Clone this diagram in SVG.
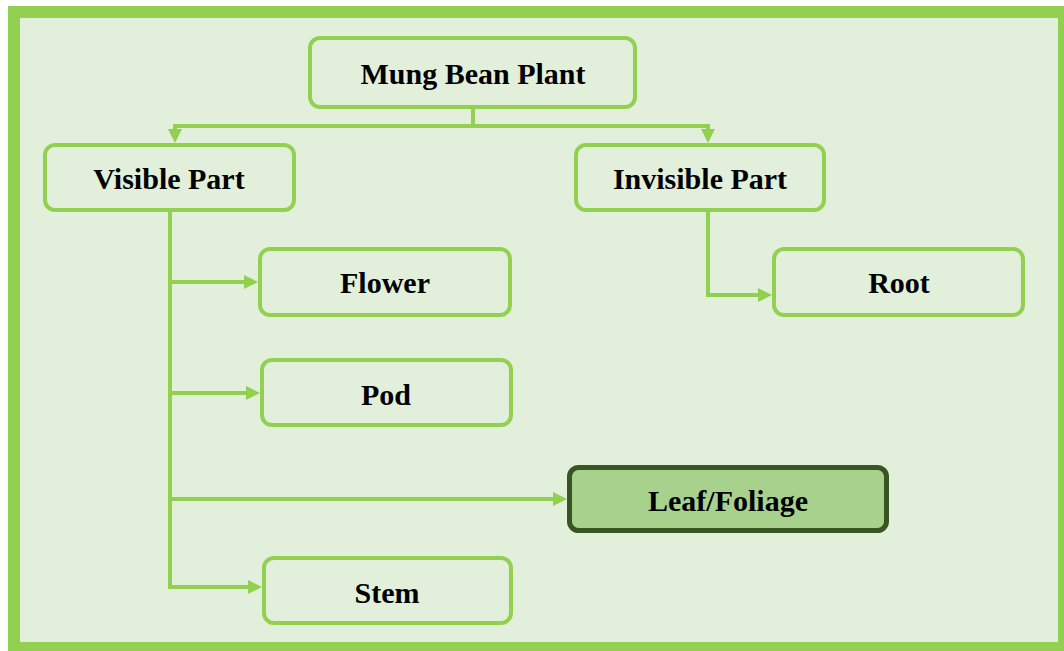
<svg xmlns="http://www.w3.org/2000/svg" width="1064" height="651" viewBox="0 0 1064 651">
  <defs>
    <style>
      .frame { fill: #E2EFDA; stroke: #92D050; stroke-width: 12; }
      .node rect { fill: #E2EFDA; stroke: #92D050; stroke-width: 4; }
      .node.hl rect { fill: #A9D18E; stroke: #375623; stroke-width: 5; }
      .node text { font-family: "Liberation Serif", "Times New Roman", serif; font-weight: bold; font-size: 30px; fill: #000; text-anchor: middle; }
      .link { fill: none; stroke: #92D050; stroke-width: 4; }
    </style>
    <!-- arrowhead: tip sits 10px beyond the end of the line -->
    <marker id="arrow" viewBox="0 0 14 14" refX="4" refY="7" markerUnits="userSpaceOnUse" markerWidth="14" markerHeight="14" orient="auto">
      <path d="M0,0 L14,7 L0,14 z" fill="#92D050"/>
    </marker>
  </defs>

  <!-- outer frame -->
  <rect class="frame" x="14" y="12" width="1050" height="636"/>

  <!-- connectors -->
  <g id="connectors">
    <path class="link" d="M473,108 V126"/>
    <path class="link" d="M175,126 H708"/>
    <path class="link" d="M175,124 V133" marker-end="url(#arrow)"/>
    <path class="link" d="M708,124 V133" marker-end="url(#arrow)"/>
    <path class="link" d="M170,211 V589"/>
    <path class="link" d="M170,282 H248" marker-end="url(#arrow)"/>
    <path class="link" d="M170,393 H250" marker-end="url(#arrow)"/>
    <path class="link" d="M170,499 H557" marker-end="url(#arrow)"/>
    <path class="link" d="M168,587 H252" marker-end="url(#arrow)"/>
    <path class="link" d="M708,211 V295 H762" marker-end="url(#arrow)"/>
  </g>

  <!-- nodes -->
  <g id="node-mung-bean-plant" class="node">
    <rect x="310" y="38" width="325" height="69" rx="10"/>
    <text x="473" y="84">Mung Bean Plant</text>
  </g>
  <g id="node-visible-part" class="node">
    <rect x="45" y="145" width="249" height="65" rx="10"/>
    <text x="169" y="189">Visible Part</text>
  </g>
  <g id="node-invisible-part" class="node">
    <rect x="576" y="145" width="248" height="65" rx="10"/>
    <text x="700" y="189">Invisible Part</text>
  </g>
  <g id="node-flower" class="node">
    <rect x="260" y="249" width="250" height="66" rx="10"/>
    <text x="385" y="293">Flower</text>
  </g>
  <g id="node-root" class="node">
    <rect x="774" y="249" width="249" height="66" rx="10"/>
    <text x="899" y="293">Root</text>
  </g>
  <g id="node-pod" class="node">
    <rect x="262" y="360" width="249" height="65" rx="10"/>
    <text x="386" y="405">Pod</text>
  </g>
  <g id="node-leaf-foliage" class="node hl">
    <rect x="569.5" y="467.5" width="317" height="63" rx="9"/>
    <text x="728" y="511">Leaf/Foliage</text>
  </g>
  <g id="node-stem" class="node">
    <rect x="264" y="558" width="247" height="65" rx="10"/>
    <text x="387" y="603">Stem</text>
  </g>
</svg>
